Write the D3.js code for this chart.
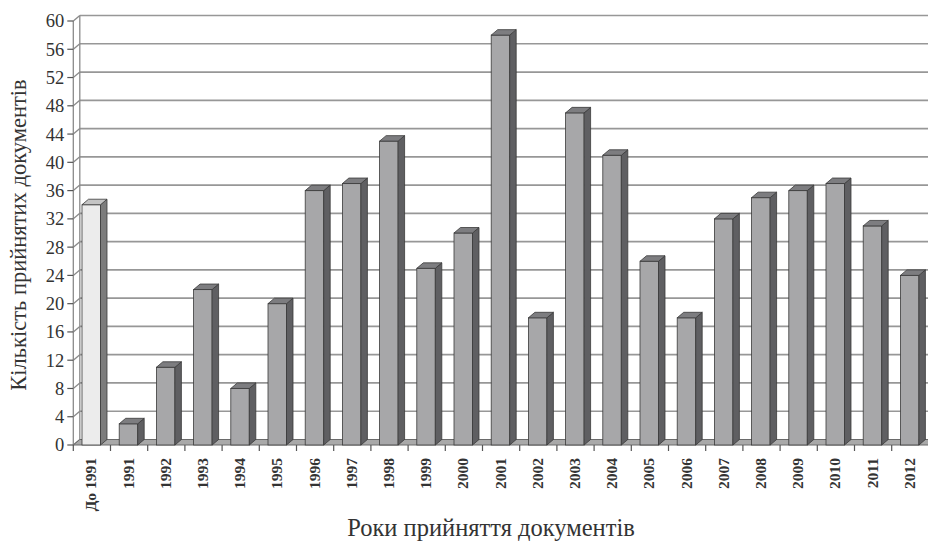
<!DOCTYPE html>
<html>
<head>
<meta charset="utf-8">
<script src="https://cdn.jsdelivr.net/npm/d3@7"></script>
<style>
  html, body { margin: 0; padding: 0; background: #fff; }
  svg { display: block; }
  text { font-family: "Liberation Serif", "DejaVu Serif", serif; fill: #333; }
</style>
</head>
<body>
<svg id="chart" width="928" height="542"></svg>
<script>
// Number of adopted documents per year
const categories = ["До 1991", "1991", "1992", "1993", "1994", "1995", "1996", "1997", "1998", "1999",
  "2000", "2001", "2002", "2003", "2004", "2005", "2006", "2007", "2008", "2009", "2010", "2011", "2012"];
const counts = [34, 3, 11, 22, 8, 20, 36, 37, 43, 25, 30, 58, 18, 47, 41, 26, 18, 32, 35, 36, 37, 31, 24];
const yTicks = [0, 4, 8, 12, 16, 20, 24, 28, 32, 36, 40, 44, 48, 52, 56, 60];
const yTitle = "Кількість прийнятих документів";
const xTitle = "Роки прийняття документів";

const svg = d3.select("#chart");

// front plane of the 3D box
const x0 = 73.3, step = 37.2;
const x = d3.scaleBand().domain(categories).range([x0, x0 + step * categories.length]).padding(0);
const y = d3.scaleLinear().domain([0, 60]).range([445, 21]);
const dx = 6.5, dy = 5.5;           // depth offset of the back wall
const xEnd = x0 + step * categories.length;

// back wall gridlines
svg.append("g").selectAll("line").data(yTicks.slice(1)).join("line")
  .attr("x1", x0 + dx).attr("x2", xEnd + dx)
  .attr("y1", d => y(d) - dy).attr("y2", d => y(d) - dy)
  .attr("stroke", "#979797").attr("stroke-width", 1.7);

// left wall
const wall = svg.append("g").attr("stroke", "#8a8a8a").attr("fill", "none").attr("stroke-width", 1.3);
wall.append("line").attr("x1", x0).attr("x2", x0).attr("y1", y(60)).attr("y2", y(0));
wall.append("line").attr("x1", x0 + dx).attr("x2", x0 + dx).attr("y1", y(60) - dy).attr("y2", y(0) - dy);
wall.selectAll("line.diag").data(yTicks).join("line").attr("class", "diag")
  .attr("x1", x0).attr("x2", x0 + dx)
  .attr("y1", d => y(d)).attr("y2", d => y(d) - dy);

// floor
svg.append("path")
  .attr("d", `M${x0},${y(0)} L${xEnd},${y(0)} L${xEnd + dx},${y(0) - dy} L${x0 + dx},${y(0) - dy} Z`)
  .attr("fill", "#a9a9a9").attr("stroke", "#6a6a6a").attr("stroke-width", 1);

// y axis ticks and labels
const yAxis = svg.append("g");
yAxis.selectAll("line").data(yTicks).join("line")
  .attr("x1", x0 - 6).attr("x2", x0)
  .attr("y1", d => y(d)).attr("y2", d => y(d))
  .attr("stroke", "#555").attr("stroke-width", 1.2);
yAxis.selectAll("text").data(yTicks).join("text")
  .attr("x", x0 - 9).attr("y", d => y(d)).attr("dy", "0.35em")
  .attr("text-anchor", "end").attr("font-size", 18.5).text(d => d);

// x axis ticks
svg.append("g").selectAll("line").data(d3.range(categories.length + 1)).join("line")
  .attr("x1", i => x0 + i * step).attr("x2", i => x0 + i * step)
  .attr("y1", y(0)).attr("y2", y(0) + 6)
  .attr("stroke", "#555").attr("stroke-width", 1.2);

// 3D bars
const bw = 18.5, off = 8.7;
const bars = svg.append("g").selectAll("g").data(categories.map((c, i) => ({ c, v: counts[i], i }))).join("g");
bars.each(function (d) {
  const g = d3.select(this);
  const xl = x(d.c) + off, xr = xl + bw, yt = y(d.v), yb = y(0);
  const first = d.i === 0;
  g.append("rect").attr("x", xl).attr("y", yt).attr("width", bw).attr("height", yb - yt)
    .attr("fill", first ? "#ececec" : "#a7a7a9").attr("stroke", "#3a3a3a").attr("stroke-width", 0.8);
  g.append("path")
    .attr("d", `M${xr},${yt} L${xr + dx},${yt - dy} L${xr + dx},${yb - dy} L${xr},${yb} Z`)
    .attr("fill", first ? "#7c7c7c" : "#5f5f62").attr("stroke", "#3a3a3a").attr("stroke-width", 0.8);
  g.append("path")
    .attr("d", `M${xl},${yt} L${xl + dx},${yt - dy} L${xr + dx},${yt - dy} L${xr},${yt} Z`)
    .attr("fill", first ? "#c4c4c4" : "#7d7d80").attr("stroke", "#3a3a3a").attr("stroke-width", 0.8);
});

// x tick labels, rotated
svg.append("g").selectAll("text").data(categories).join("text")
  .attr("transform", d => `translate(${x(d) + step / 2 - 1},${y(0) + 13}) rotate(-90)`)
  .attr("text-anchor", "end").attr("dy", "0.35em")
  .attr("font-size", 15.5).attr("font-weight", "bold").text(d => d);

// axis titles
svg.append("text").attr("transform", "translate(18,235) rotate(-90)")
  .attr("text-anchor", "middle").attr("dy", "0.35em").attr("font-size", 22.5).text(yTitle);
svg.append("text").attr("x", 491).attr("y", 527).attr("dy", "0.35em")
  .attr("text-anchor", "middle").attr("font-size", 24.5).text(xTitle);
</script>
</body>
</html>
